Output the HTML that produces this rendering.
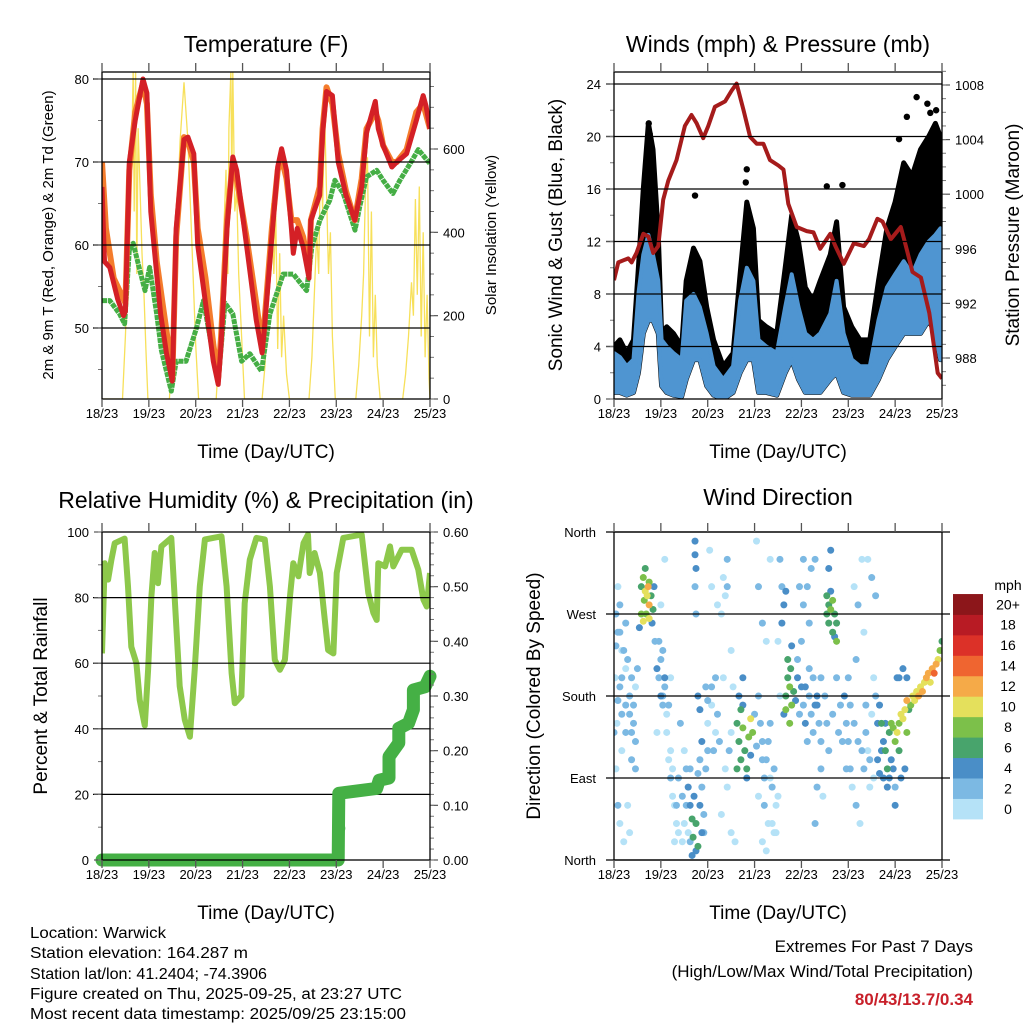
<!DOCTYPE html>
<html><head><meta charset="utf-8">
<style>
html,body{margin:0;padding:0;background:#fff;}
svg{display:block;font-family:"Liberation Sans",sans-serif;}
</style></head>
<body>
<svg id="fig" width="1024" height="1024" viewBox="0 0 1024 1024" xmlns="http://www.w3.org/2000/svg">
<rect width="1024" height="1024" fill="#fff"/>
<text x="266" y="52" font-size="23" text-anchor="middle">Temperature (F)</text>
<text x="778" y="52" font-size="23" text-anchor="middle">Winds (mph) &amp; Pressure (mb)</text>
<text x="266" y="508" font-size="23" text-anchor="middle">Relative Humidity (%) &amp; Precipitation (in)</text>
<text x="778" y="505" font-size="23" text-anchor="middle">Wind Direction</text>
<text transform="translate(53,235) rotate(-90)" font-size="15" text-anchor="middle">2m &amp; 9m T (Red, Orange) &amp; 2m Td (Green)</text>
<text transform="translate(496,235) rotate(-90)" font-size="15" text-anchor="middle">Solar Insolation (Yellow)</text>
<text transform="translate(562,235) rotate(-90)" font-size="19" text-anchor="middle">Sonic Wind &amp; Gust (Blue, Black)</text>
<text transform="translate(1019,235) rotate(-90)" font-size="19" text-anchor="middle">Station Pressure (Maroon)</text>
<text transform="translate(47,696) rotate(-90)" font-size="19" text-anchor="middle">Percent &amp; Total Rainfall</text>
<text transform="translate(540,696) rotate(-90)" font-size="19" text-anchor="middle">Direction (Colored By Speed)</text>
<text x="266" y="458" font-size="19" text-anchor="middle">Time (Day/UTC)</text>
<text x="778" y="458" font-size="19" text-anchor="middle">Time (Day/UTC)</text>
<text x="266" y="919" font-size="19" text-anchor="middle">Time (Day/UTC)</text>
<text x="778" y="919" font-size="19" text-anchor="middle">Time (Day/UTC)</text>
<g font-size="15.5">
<text x="30" y="938" textLength="136" lengthAdjust="spacingAndGlyphs">Location: Warwick</text>
<text x="30" y="958" textLength="218" lengthAdjust="spacingAndGlyphs">Station elevation: 164.287 m</text>
<text x="30" y="979" textLength="237" lengthAdjust="spacingAndGlyphs">Station lat/lon: 41.2404; -74.3906</text>
<text x="30" y="999" textLength="372" lengthAdjust="spacingAndGlyphs">Figure created on Thu, 2025-09-25, at 23:27 UTC</text>
<text x="30" y="1019" textLength="376" lengthAdjust="spacingAndGlyphs">Most recent data timestamp: 2025/09/25 23:15:00</text>
</g>
<g font-size="17" text-anchor="end">
<text x="973" y="952">Extremes For Past 7 Days</text>
<text x="973" y="977">(High/Low/Max Wind/Total Precipitation)</text>
<text x="973" y="1005" font-weight="bold" fill="#c8202a">80/43/13.7/0.34</text>
</g>
<g id="layer"></g>
</svg>
<script>
// ---------- DATA ----------
const dayLabels = ["18/23","19/23","20/23","21/23","22/23","23/23","24/23","25/23"];
const tempTicks = [50,60,70,80];
const solarTicks = [0,200,400,600];
const windTicks = [0,4,8,12,16,20,24];
const pressTicks = [988,992,996,1000,1004,1008];
const rhTicks = [0,20,40,60,80,100];
const rainTicks = [0,0.1,0.2,0.3,0.4,0.5,0.6];
const dirLabels = ["North","East","South","West","North"];
const dirTicks = [0,90,180,270,360];
const speedBins = ["0","2","4","6","8","10","12","14","16","18","20+"];

const tempT = [0,1.3,4,8,11,12,14,17,21,23,25,28,30,33,36,38,42,44,47,49,53,57,59.5,61,64,67,69,74,79,82,83,87,90,92,94.5,97,98,100,103,106,107,111.5,113,115,118,121,125,129.5,133,135.5,140,141.5,144,148.5,151,156,161,164.5,166,168];
const tempV = [67,58,57.3,53.5,51.5,52,70,75,80,78.3,64,56.5,51.7,47,43.6,62,72.7,73,71,60,53,46,43.2,48,62,70.6,69,60,51,47,49.3,61,69.4,71.6,69,62,59,62,59.8,56,63,66,73.5,78.5,78,70,66,63,67,73.5,77.3,74,72,69.4,70,71,75,78,76.7,74];
const temp9T = [0,2,6,10,12,14,17,21,23,25,28,31,34,36,38,42,44,47,49,53,57,59.5,61,64,67,69,74,79,82,83,87,90,92,94.5,97,100,103,106,107,111.5,113,115,118,121,125,129.5,133,135.5,140,141.5,144,148.5,151,156,161,164.5,168];
const temp9V = [70,62,56,54,53,69,76,79.5,77,66,58,53,48,44,61,73,72.5,70,62,56,48,44,49,63,70,68,61,53,48,50,62,69,70.5,68,63,63,61,57,63,67,74,79,77,71,66.5,63,68,74,76,75,72,70,70,71.5,76,77,74];
const dewT = [0,4,9,11.6,14,16,19,22,24.4,28,30.4,35.5,38,43,48.4,52,55,59.5,63,67,71.5,75.7,81.7,86,92.8,98,104.8,107.5,111.6,116.7,119.3,123.6,129.6,132,135.5,140.7,144,149,152.6,157.8,162,168];
const dewV = [53.3,53.3,51.7,50.5,59.4,60.2,57.3,54.5,57.3,51.7,47.3,42.4,46,46,50,53.3,49.3,43.6,53,51.7,46,46.9,44.8,51.7,56.5,56.5,54.5,59.8,63,65.4,67.8,66.2,61.8,64.6,68.2,69,67.8,66.2,67.8,69.8,71.5,69.8];
const solarT = [0,10.5,12,13.5,15,16,16.5,17.2,17.8,18.5,19.5,20.5,21.5,22.5,23.5, 34.5,36,38,40,42,44,46,48,49.5, 58.5,60,62,63.5,64.5,65,66,66.5,67,68,69,70,71.5,73, 82,83.5,85,86,87,88,89,90,91,92,93,94.5,96, 106,107.5,109,110,111,112,113,114,115,116,117,118,119.5, 130,131.5,133,134,135,136,137,138,139,140,141,142.5, 154,155.5,157,158.5,159.5,160.5,161.5,162.5,163.5,164.5,165.5,166.5,167.5,168];
const solarV = [0,0,150,350,550,790,450,800,300,650,500,350,250,120,0, 0,120,380,620,760,620,380,130,0, 0,120,350,550,300,650,790,500,790,450,500,300,150,0, 0,80,250,400,470,300,440,120,350,100,200,60,0, 0,100,280,400,300,620,450,690,500,300,400,150,0, 0,80,200,300,520,580,150,450,100,250,80,0, 0,60,150,280,200,480,250,510,150,400,100,250,50,0];

const windT = [0,3,6.5,10,12.5,15,17.6,20,22.7,24.4,27,30.4,34.7,37,40.7,44,47.5,51,56,61,64.6,68,71.4,74,78,83.4,87.7,91,94.5,98,102,105.6,110.8,114,117.6,121.8,126,131,135.5,139.8,144,148.4,152.7,157,161.2,164.6,167.2,168];
const windLo = [0.5,0.5,0.3,0.5,2,5,6,6,5,1,0.5,0.3,0.2,1.5,3,3,1,0.3,0,0.5,2,3,3,0.5,0.5,0.3,2,3,1.5,0.5,0.5,0.5,1.5,2,0.5,0.3,0.3,0.3,1.5,3,4,5,5,5,6,5,3,3];
const windHi = [3.5,3.2,2.5,3,8,11,12.5,11,9,4.5,4,3.5,3,7.5,8,7,5,2.5,1.5,2.5,7.5,10,9,4.5,4,3.5,7,9.5,7,5,4.5,5,6.5,9,5,3,2.5,2.5,6,8.5,9.5,10.5,9.5,11,12,12.5,13,12];
const gustHi = [4,4.5,3.5,4.5,10,16,21,19,12.5,5,5.5,5,4,9,11.5,10.5,7,4.5,2.5,3.5,9.5,15,13,6,5.5,5,10,14,12,8.5,7.5,9,11,13.5,7,5.5,4.5,4.5,9,13,15,18,17,19,20,21,20,19];
const gustOutT = [17.8,18.3,41.5,68,67.5,109,117,155,160.5,165,150,146,162];
const gustOutV = [21,20.2,15.5,17.5,16.5,16.2,16.3,23,22.5,22,21.5,19.8,21.8];
const pressT = [0,2.2,5.6,7.3,9,11.5,15,17.6,20.1,22.7,25.2,27.8,32,36.3,39.7,42.3,45.7,48.3,51.7,56.9,60.3,62.8,66.3,69.7,73.1,76.5,79.9,84.2,86.8,89.3,93.6,98.7,102.2,105.6,110.8,113.4,117.7,122.8,128,130.6,134.9,137.5,141.8,146.9,149.5,152.9,157.2,161.5,165.8,168];
const pressV = [993.7,995,995.2,995.3,995,995.7,997.1,996.9,995.7,996.2,999.6,1001,1002.5,1005,1005.8,1005.2,1004.1,1005,1006.4,1006.8,1007.6,1008.1,1006.2,1004.2,1003.7,1003.7,1002.5,1002.1,1001.8,999.3,997.6,997.3,997.2,996,997.1,996.2,994.9,996.4,996.2,996.7,998.2,998,996.7,997.6,996.2,994.3,993.9,991.3,986.9,986.5];

const rhT = [0,1.4,3.1,4.8,6.5,11.6,13.3,15,17.6,19.3,21.9,23.6,25.3,27,28.7,30.4,35.5,37.2,39.8,42.4,45,47.5,50.1,52.7,61.2,63.8,66.4,68,71.4,73.1,75.7,79.1,83.4,86,88.5,91.1,93.7,96.3,98,100.6,103.2,105.5,106.4,108.9,111.6,114.1,115.8,118.5,120.2,123.6,133,136.4,139,140.7,141.5,145,147.5,149.2,153.5,158.6,162,164.6,166.3,168];
const rhV = [63,90.5,85.5,91.5,96.6,98,83.4,65,60,48.8,41,58,80.4,93.6,84.4,95.6,98.2,80.4,53,42.7,37.6,58,83.4,97.7,98.7,83.4,57,47.8,50,78.3,91.6,98.2,97.7,83.4,61,58,61,80.4,90.5,86.5,96.6,99.2,87.5,93.6,87.5,73.2,64,63,87.5,98.2,99.2,81.4,75.3,73.2,90.5,89.5,95.6,89.5,94.6,94.6,88.5,79.4,77.3,87.5];
const rainT = [0,121,121.3,140.7,142,147,147,152,152,157,159.5,159.5,165.5,168];
const rainV = [0,0,0.122,0.131,0.146,0.15,0.189,0.214,0.241,0.25,0.275,0.311,0.317,0.336];
const rainOutT = [121.3];
const rainOutV = [0.058];

const dirT = [14,15,16,17,18,15.5,16.5,18,19,20,14,17.5,19.5,16,18,20.5,13,15,
1,2,0.5,1.5,3,4,6,7,5,8,9,10,2,4,0,8,11,3,6,11,
23,24,25,26,27,28,29,30,24,26,29,31,32,33,35,34,
38,39,40,40.5,41,42,43,43,44,45,45,46,47,48,37,39,42,44,46,41.5,41.5,42,41.5,42,43,44,45,47,48,50,52,50,53,55,55,57,58,60,62,49,58,60,
63,64,65,66,67,68,69,70,71,64,66,68,63,72,73,65,70,66,
74,75,76,78,80,82,84,77,79,74,76,78,80,82,85,84,73,
88,89,90,90.5,91,92,88,89,93,94,87,91,90,86,87,86,88,85,
96,97,98,99,100,101,102,103,104,105,106,97,99,101,100,103,104,103,106,107,
109,110,111,112,113,114,110,111,112,114,113,109,111,110,108,109,110,112,114,116,118,119,120,121,122,124,126,120,123,125,127,128,130,131,132,133,129,134,
136,137,138,139,140,141,142,143,144,145,146,147,148,149,150,151,152,153,154,155,156,157,158,159,160,161,162,163,164,165,166,167,168,138,140,142,144,146,147,149,150,135,136,145,150];
const dirD = [300,310,295,290,280,285,270,305,290,275,270,300,260,320,265,300,255,262,
270,250,200,150,190,120,170,60,20,30,140,170,300,230,140,160,190,250,210,100,
240,220,180,190,160,170,120,100,280,330,200,60,40,90,20,150,
80,60,45,25,70,40,15,95,60,30,80,50,100,120,100,20,10,110,30,350,335,320,300,270,180,165,130,190,150,170,140,300,280,270,50,100,80,30,20,340,300,230,
150,130,110,145,120,100,135,155,140,180,170,90,100,160,125,165,115,200,
180,150,130,110,90,100,70,60,40,300,260,240,330,30,180,240,350,
180,200,190,210,170,185,165,220,175,200,160,235,150,260,280,300,295,330,
190,170,150,130,180,160,140,170,180,150,130,280,300,320,260,330,80,40,100,70,
290,280,275,285,270,260,260,295,250,240,245,270,340,320,180,150,120,160,200,170,180,150,130,100,80,60,40,200,300,280,330,100,120,80,160,200,170,290,
170,150,130,120,100,140,150,145,130,140,150,160,155,165,175,165,170,180,175,185,180,190,185,195,200,205,195,210,205,215,220,230,240,90,80,110,60,120,90,100,140,110,95,200,200];
const dirS = [7,8,10,11,12,9,8,9,7,6,8,12,5,7,10,5,5,11,
2,3,1,1,2,1,2,1,1,0.5,2,3,1,1,2,3,1,2,1,2,
3,2,3,2,1,2,1,1,1,1,1,1,1,2,1,2,
4,5,6,7,4,6,6,3,4,5,3,3,2,2,3,3,5,3,2,4,4,4,3,3,4,4,4,2,1,1,1,1,1,1,1,1,1,1,1,1,2,1,
6,7,6,8,7,6,9,10,8,5,4,4,6,3,3,7,5,4,
2,2,3,2,1,2,1,2,1,2,2,1,1,1,1,1,1,
7,7,8,6,8,6,8,6,5,4,5,4,8,4,4,3,4,2,
4,3,4,2,3,2,3,4,4,3,2,3,2,2,3,3,2,2,2,1,
6,7,8,8,7,6,7,5,6,8,5,6,4,4,3,3,2,3,2,3,4,3,2,2,1,2,1,2,1,2,1,2,1,1,1,1,2,2,
5,6,4,6,6,7,8,9,8,10,9,10,11,10,12,7,9,10,11,10,12,11,12,11,12,13,11,12,14,12,10,8,7,4,5,4,5,6,5,4,8,4,5,4,5];
const dirT2 = [1,2,3,4,5,6,7,8,9,10,11,12,2,4,6,9,1,3,21,22,23,24,25,26,27,28,29,30,31,32,33,25,22,36,35,37,38,39,40,36,48,50,51,52,53,54,56,57,58,59,60,61,56,76,77,79,80,81,83,74,76,78,81,83,94,95,96,98,100,102,104,106,95,97,115,117,119,121,123,125,127,129,131,133,124,128,132,130,135,137,139,141,143,144,146,148,134];
const dirD2 = [100,60,40,200,230,260,220,180,200,150,130,210,175,160,140,110,235,280,240,210,200,180,170,200,140,110,90,70,20,60,30,230,140,120,70,60,30,100,5,40,175,190,120,200,160,130,310,290,330,120,140,190,200,110,90,130,150,80,60,70,20,10,40,30,220,160,240,190,210,200,170,200,300,330,140,130,100,170,150,130,120,140,110,90,220,250,310,330,150,120,150,90,100,80,200,210,180];
const dirS2 = [1,2,1,3,2,2,3,3,2,3,2,2,3,3,2,2,3,3,3,4,3,4,3,4,1,1,2,1,1,2,1,2,1,1,2,2,1,3,4,1,2,2,3,2,2,2,1,1,2,2,1,1,1,3,2,3,2,2,1,1,1,1,1,1,3,3,3,4,3,3,4,3,2,2,3,2,2,3,2,2,2,3,2,1,2,1,2,1,4,5,4,4,5,3,5,4,3];

// ---------- DRAWING ----------
const NS = "http://www.w3.org/2000/svg";
const layer = document.getElementById("layer");
function mk(tag, attrs, parent) {
  const e = document.createElementNS(NS, tag);
  for (const k in attrs) e.setAttribute(k, attrs[k]);
  (parent || layer).appendChild(e);
  return e;
}
function txt(s, attrs, parent) { const e = mk("text", attrs, parent); e.textContent = s; return e; }
function lin(a, b, c, d) { return v => c + (v - a) * (d - c) / (b - a); }
const speedColors = ["#b5e2f7","#7cb9e3","#4a8ec7","#48a46c","#7cc04a","#e4e05c","#f5aa48","#ef6530","#dc3128","#b81b24","#8c161a"];

function panel(name, x0, x1, yT, yB) {
  const g = mk("g", {});
  
  
  const clipId = name + "-clip";
  const cp = mk("clipPath", {id: clipId}, g);
  mk("rect", {x: x0, y: yT, width: x1 - x0, height: yB - yT}, cp);
  const data = mk("g", {"clip-path": "url(#" + clipId + ")"}, g);
  
  
  return {g, data, x: lin(0, 168, x0, x1), x0, x1, yT, yB};
}
function frame(p) {
  mk("rect", {x: p.x0, y: p.yT, width: p.x1 - p.x0, height: p.yB - p.yT, fill: "none", stroke: "#000", "stroke-width": 1.3}, p.g);
  const ax = mk("g", {}, p.g);
  
  
  dayLabels.forEach((d, i) => {
    const xx = p.x(i * 24);
    mk("line", {x1: xx, x2: xx, y1: p.yT - 9, y2: p.yT, stroke: "#555", "stroke-width": 1.3}, ax);
    mk("line", {x1: xx, x2: xx, y1: p.yB, y2: p.yB + 8, stroke: "#555", "stroke-width": 1.3}, ax);
    const t = txt(d, {x: xx, y: p.yB + 19, "font-size": 13, "text-anchor": "middle"}, ax);
    
    
  });
}
function grid(p, vals, yf, xl, xr) {
  vals.forEach(v => mk("line", {x1: xl, x2: xr, y1: yf(v), y2: yf(v), stroke: "#000", "stroke-width": 1.2}, p.g));
}
function leftTicks(p, vals, yf, fmt) {
  vals.forEach(v => {
    mk("line", {x1: p.x0 - 8, x2: p.x0, y1: yf(v), y2: yf(v), stroke: "#555", "stroke-width": 1.2}, p.g);
    const t = txt(fmt(v), {x: p.x0 - 13, y: yf(v) + 5, "font-size": 13, "text-anchor": "end"}, p.g);
    
    
  });
}
function rightTicks(p, vals, yf, fmt) {
  vals.forEach(v => {
    mk("line", {x1: p.x1, x2: p.x1 + 8, y1: yf(v), y2: yf(v), stroke: "#555", "stroke-width": 1.2}, p.g);
    const t = txt(fmt(v), {x: p.x1 + 13, y: yf(v) + 5, "font-size": 13}, p.g);
    
    
  });
}
function minor(p, from, to, step, yf, side) {
  for (let v = from; v <= to + 1e-9; v += step) {
    const yy = yf(v);
    if (side === "r") mk("line", {x1: p.x1, x2: p.x1 + 4, y1: yy, y2: yy, stroke: "#777", "stroke-width": 1}, p.g);
    else mk("line", {x1: p.x0 - 4, x2: p.x0, y1: yy, y2: yy, stroke: "#777", "stroke-width": 1}, p.g);
  }
}
function pathD(T, V, xf, yf) { return T.map((t, i) => (i ? "L" : "M") + xf(t).toFixed(1) + "," + yf(V[i]).toFixed(1)).join(""); }

// ---- Temperature panel
(function () {
  const p = panel("temperature-panel", 102, 430, 72, 399);
  const yT = lin(80, 50, 79, 328), yS = lin(0, 600, 399, 149);
  grid(p, tempTicks, yT, 93, 430);
  const s1 = mk("path", {d: pathD(solarT, solarV, p.x, yS), fill: "none", stroke: "#f7e05a", "stroke-width": 1.3}, p.data);
  
  
  const s2 = mk("path", {d: pathD(dewT, dewV, p.x, yT), fill: "none", stroke: "#45ae45", "stroke-width": 5, "stroke-dasharray": "5 0.8", "stroke-linejoin": "round"}, p.data);
  
  
  const s3 = mk("path", {d: pathD(temp9T, temp9V, p.x, yT), fill: "none", stroke: "#f47c2c", "stroke-width": 6, "stroke-linejoin": "round"}, p.data);
  
  
  const s4 = mk("path", {d: pathD(tempT, tempV, p.x, yT), fill: "none", stroke: "#d42026", "stroke-width": 5, "stroke-linejoin": "round"}, p.data);
  
  
  leftTicks(p, tempTicks, yT, v => v);
  minor(p, 45, 80, 5, yT, "l");
  rightTicks(p, solarTicks, yS, v => v);
  minor(p, 0, 750, 50, yS, "r");
  frame(p);
})();

// ---- Winds panel
(function () {
  const p = panel("winds-panel", 614, 942, 72, 399);
  const yW = lin(0, 24, 399, 84), yP = lin(988, 1008, 358, 85);
  grid(p, windTicks.filter(v => v > 0), yW, 606, 942);
  const gustPoly = windT.map((t, i) => p.x(t).toFixed(1) + "," + yW(gustHi[i]).toFixed(1)).join(" ") + " " +
    windT.slice().reverse().map((t, j) => { const i = windT.length - 1 - j; return p.x(t).toFixed(1) + "," + yW(windLo[i]).toFixed(1); }).join(" ");
  const g1 = mk("polygon", {points: gustPoly, fill: "#000", stroke: "#000", "stroke-width": 5, "stroke-linejoin": "round"}, p.data);
  
  
  gustOutT.forEach((t, i) => {
    const c = mk("circle", {cx: p.x(t), cy: yW(gustOutV[i]), r: 3.2, fill: "#000"}, p.data);
    
    
  });
  const windPoly = windT.map((t, i) => p.x(t).toFixed(1) + "," + yW(windHi[i]).toFixed(1)).join(" ") + " " +
    windT.slice().reverse().map((t, j) => { const i = windT.length - 1 - j; return p.x(t).toFixed(1) + "," + yW(windLo[i]).toFixed(1); }).join(" ");
  const w1 = mk("polygon", {points: windPoly, fill: "#4f95d1", stroke: "#4f95d1", "stroke-width": 4, "stroke-linejoin": "round"}, p.data);
  
  
  const pr = mk("path", {d: pathD(pressT, pressV, p.x, yP), fill: "none", stroke: "#a51b1b", "stroke-width": 4, "stroke-linejoin": "round"}, p.data);
  
  
  leftTicks(p, windTicks, yW, v => v);
  minor(p, 0, 24, 2, yW, "l");
  rightTicks(p, pressTicks, yP, v => v);
  minor(p, 986, 1009, 1, yP, "r");
  frame(p);
})();

// ---- RH panel
(function () {
  const p = panel("humidity-panel", 102, 430, 532, 860);
  const yR = lin(0, 100, 860, 532), yI = lin(0, 0.6, 860, 532);
  grid(p, rhTicks.filter(v => v > 0 && v < 100), yR, 93, 430);
  const r1 = mk("path", {d: pathD(rhT, rhV, p.x, yR), fill: "none", stroke: "#8dc84b", "stroke-width": 6, "stroke-linejoin": "round"}, p.data);
  
  
  const r2 = mk("path", {d: pathD(rainT, rainV, p.x, yI), fill: "none", stroke: "#45b045", "stroke-width": 13, "stroke-linecap": "round", "stroke-linejoin": "round"}, p.g);
  
  
  rainOutT.forEach((t, i) => {
    const c = mk("circle", {cx: p.x(t), cy: yI(rainOutV[i]), r: 6.5, fill: "#45b045"}, p.g);
    
    
  });
  leftTicks(p, rhTicks, yR, v => v);
  minor(p, 0, 100, 10, yR, "l");
  rightTicks(p, rainTicks, yI, v => v.toFixed(2));
  minor(p, 0, 0.6, 0.02, yI, "r");
  frame(p);
})();

// ---- Wind direction panel
(function () {
  const p = panel("wind-direction-panel", 614, 942, 532, 860);
  const yD = lin(0, 360, 860, 532);
  grid(p, dirTicks.filter(v => v > 0 && v < 360), yD, 606, 950);
  mk("line", {x1: 606, x2: 950, y1: 532, y2: 532, stroke: "#000", "stroke-width": 1.2}, p.g);
  mk("line", {x1: 606, x2: 950, y1: 860, y2: 860, stroke: "#000", "stroke-width": 1.2}, p.g);
  const allT = dirT2.concat(dirT), allD = dirD2.concat(dirD), allS = dirS2.concat(dirS);
  const order = allS.map((s, i) => i).sort((a, b) => allS[a] - allS[b]);
  order.forEach(i => {
    const bin = Math.min(10, Math.floor(allS[i] / 2));
    const c = mk("circle", {cx: p.x(allT[i]), cy: yD(allD[i]), r: 3.5, fill: speedColors[bin]}, p.data);
    
    
  });
  dirTicks.forEach((v, i) => {
    const t = txt(dirLabels[i], {x: 596, y: yD(v) + 5, "font-size": 13, "text-anchor": "end"}, p.g);
    
    
  });
  frame(p);
  const cb = mk("g", {});
  
  
  const bh = 20.45;
  txt("mph", {x: 1008, y: 590, "font-size": 14, "text-anchor": "middle"}, cb);
  speedBins.forEach((lab, i) => {
    const yy = 819 - (i + 1) * bh;
    const r = mk("rect", {x: 953, y: yy, width: 30, height: bh + 0.4, fill: speedColors[i]}, cb);
    
    
    const t = txt(lab, {x: 1008, y: yy + bh / 2 + 5, "font-size": 14, "text-anchor": "middle"}, cb);
    
    
  });
})();
</script>
</body></html>
